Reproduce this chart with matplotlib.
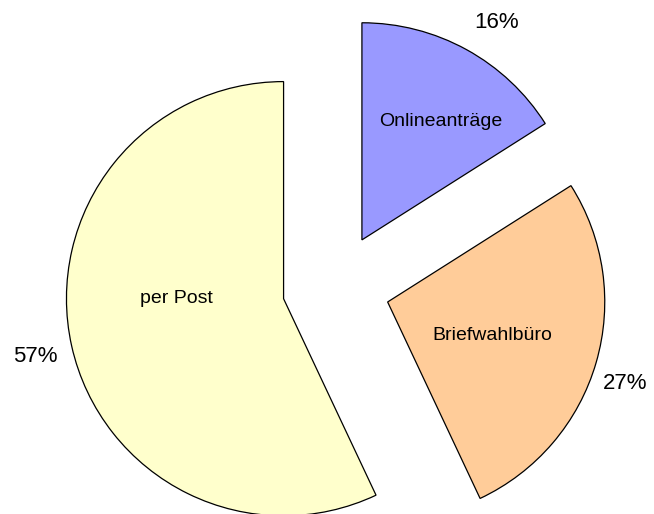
import numpy as np
import matplotlib
matplotlib.use('Agg')
import matplotlib.pyplot as plt

plt.rcParams['font.family'] = ['Liberation Sans', 'DejaVu Sans']

labels = ['Onlineanträge', 'Briefwahlbüro', 'per Post']
shares = [16, 27, 57]

colors = ['#9999FF', '#FFCC99', '#FFFFCC']
explode = [0.25, 0.25, 0.25]
# label placement (distance from wedge tip, angle shift from mid-angle)
name_pos = [(0.66, -5), (0.51, -1.7), (0.50, -12.6)]
pct_pos = [(1.19, -3), (1.17, -2.8), (1.185, 0.6)]

fig = plt.figure(figsize=(6.54, 5.14), dpi=100)
ax = fig.add_axes([0, 0, 1, 1])

wedges, _ = ax.pie(shares, colors=colors, explode=explode, startangle=90,
                   counterclock=False, radius=1.01,
                   wedgeprops=dict(edgecolor='black', linewidth=0.9))

for w, name, val, (dn, an), (dp, ap) in zip(wedges, labels, shares, name_pos, pct_pos):
    mid = (w.theta1 + w.theta2) / 2
    cx, cy = w.center
    a = np.deg2rad(mid + an)
    ax.text(cx + dn * np.cos(a), cy + dn * np.sin(a), name,
            ha='center', va='center', fontsize=14)
    a = np.deg2rad(mid + ap)
    ax.text(cx + dp * np.cos(a), cy + dp * np.sin(a), f'{val}%',
            ha='center', va='center', fontsize=16)

ax.set_xlim(-1.563, 1.479)
ax.set_ylim(-1.056, 1.335)
ax.set_aspect('equal')
ax.axis('off')

fig.savefig('out.png', dpi=100)
